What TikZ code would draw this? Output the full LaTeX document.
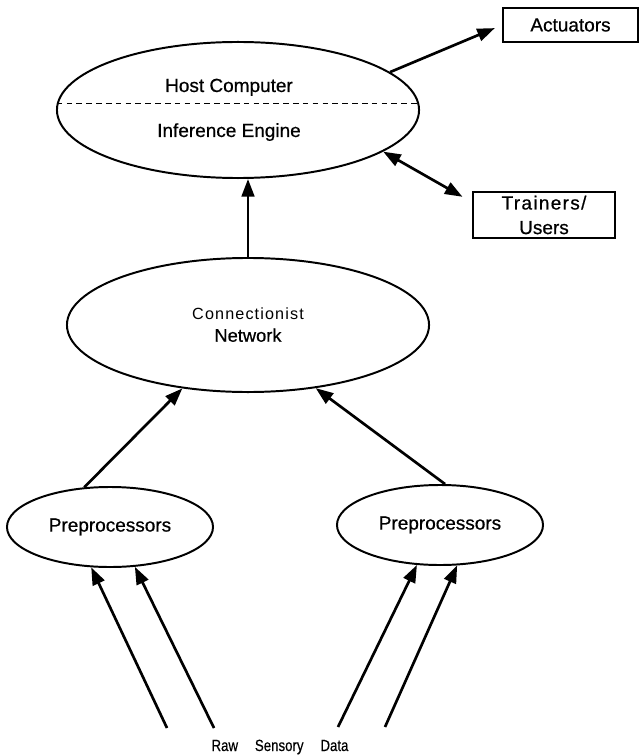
\documentclass[tikz,border=0pt]{standalone}
\usepackage{fontspec}
\setmainfont{Liberation Sans}[FakeBold=0.6]
\newfontfamily\narrowsf{Liberation Sans}[FakeStretch=0.82, FakeBold=0.4]
\newfontfamily\spacedsf{Liberation Sans}[LetterSpace=7]
\newfontfamily\trainsf{Liberation Sans}[LetterSpace=7, FakeBold=0.6]
\usepackage{tikz}
\usetikzlibrary{arrows.meta,shapes.geometric}

\begin{document}
\begin{tikzpicture}[x=0.025cm, y=-0.025cm,
  blob/.style={draw, ellipse, line width=1.4pt, inner sep=0pt},
  box/.style={draw, rectangle, line width=1.1pt, inner sep=0pt, align=center},
  arr/.style={-{Triangle[length=12.5pt,width=9pt]}, line width=1.9pt},
  dblarr/.style={{Triangle[length=12.5pt,width=9pt]}-{Triangle[length=12.5pt,width=9pt]}, line width=1.9pt},
  txt/.style={font=\fontsize{13.5}{17.5}\selectfont}]
\useasboundingbox (0,0) rectangle (640,755);
% host computer
\node[blob, minimum width=9.05cm, minimum height=3.4cm] (host) at (238,110) {};
\draw[dash pattern=on 4pt off 3pt, line width=1pt] (host.178) -- (host.2);
\node[txt, anchor=base] (hostlbl) at (229,92) {Host Computer};
\node[txt, anchor=base] (inflbl) at (229,137) {Inference Engine};
% outputs
\node[box, txt, minimum width=3.375cm, minimum height=0.85cm] (act) at (570.5,25) {Actuators};
\node[box, txt, minimum width=3.55cm, minimum height=1.15cm] (train) at (544,215) {{\trainsf Trainers/}\\Users};
\draw[arr, shorten >=0.2cm] (host.14) -- (act.west);
\draw[dblarr, shorten >=0.28cm] (host.-16) -- (train.170);
% network
\node[blob, minimum width=9.05cm, minimum height=3.35cm, align=center, font=\fontsize{13}{15.6}\selectfont] (cn) at (248,325)
  {{\spacedsf\fontsize{11.5}{15.6}\selectfont Connectionist}\\Network};
\draw[arr] (cn.north) -- (cn.north |- host.south);
% preprocessors
\node[blob, txt, minimum width=5.15cm, minimum height=2cm] (ppl) at (110,527) {Preprocessors};
\node[blob, txt, minimum width=5.15cm, minimum height=2cm] (ppr) at (440,525) {Preprocessors};
\draw[arr] (ppl.123) -- (cn.224);
\draw[arr] (ppr.83) -- (cn.-43);
% sensor inputs
\coordinate (s1) at (167,728);
\coordinate (s2) at (214,728);
\coordinate (s3) at (338,727);
\coordinate (s4) at (385,727);
\draw[arr] (s1) -- (ppl.245);
\draw[arr] (s2) -- (ppl.302);
\draw[arr] (s3) -- (ppr.240);
\draw[arr] (s4) -- (ppr.293);
\node[font=\narrowsf\fontsize{11.5}{14}\selectfont, anchor=base] (rawlbl) at (280,751) {Raw\hskip 12pt Sensory\hskip 12pt Data};
\end{tikzpicture}
\end{document}
